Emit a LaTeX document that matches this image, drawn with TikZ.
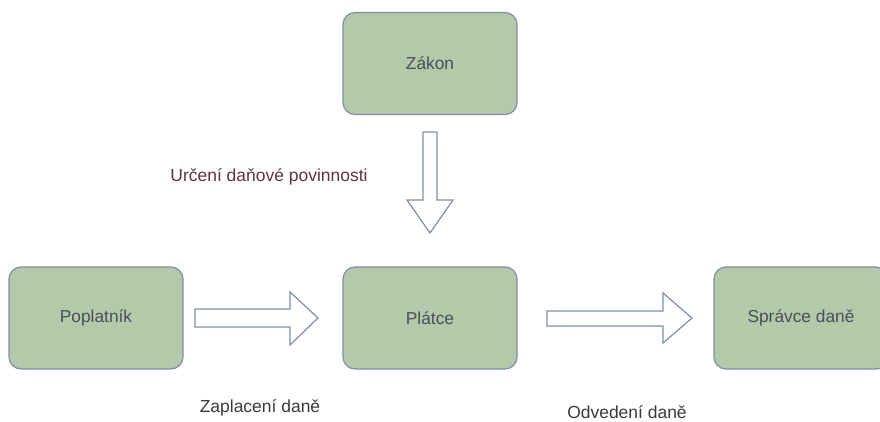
\documentclass[tikz,border=0pt]{standalone}
\usepackage{fontspec}
\setmainfont{Liberation Sans}
\usetikzlibrary{positioning}
\definecolor{boxfill}{HTML}{B3C9A9}
\definecolor{boxline}{HTML}{7F8EA8}
\definecolor{boxtext}{HTML}{4A4E5C}
\definecolor{labred}{HTML}{5E3440}
\definecolor{labgray}{HTML}{3A3A3A}
\tikzstyle{stage}=[rectangle,rounded corners=9pt,fill=boxfill,draw=boxline,line width=0.9pt,minimum width=130.5pt,minimum height=76.5pt,inner sep=0pt,text=boxtext,font=\fontsize{13}{15}\selectfont]
\tikzstyle{blockarrow}=[draw=boxline,fill=white,line width=0.9pt,line join=miter]
\tikzstyle{caption}=[inner sep=0pt,font=\fontsize{13.1}{15}\selectfont]

\begin{document}
\begin{tikzpicture}[x=0.75pt,y=-0.75pt]
\useasboundingbox (0,0) rectangle (880,421);
\node[stage] at (430, 63.5) (zakon) {Zákon};
\node[stage] at (96, 318) (poplatnik) {Poplatník};
\node[stage] at (430, 318) (platce) {Plátce};
\node[stage] at (801, 318) (spravce) {Správce daně};
\node[caption, text=labred] at (269, 177) (urceni) {Určení daňové povinnosti};
\node[caption, text=labgray] at (260, 408) (zaplaceni) {Zaplacení daně};
\node[caption, text=labgray] at (627, 412) (odvedeni) {Odvedení daně};
% block arrows
\draw[blockarrow] (423,132) -- (437,132) -- (437,200) -- (453,200) -- (430,233) -- (407,200) -- (423,200) -- cycle;
\draw[blockarrow] (195,309) -- (290,309) -- (290,292) -- (318,318) -- (290,345) -- (290,327) -- (195,327) -- cycle;
\draw[blockarrow] (547,311) -- (663,311) -- (663,293) -- (692,318) -- (663,343) -- (663,326) -- (547,326) -- cycle;
\end{tikzpicture}
\end{document}
